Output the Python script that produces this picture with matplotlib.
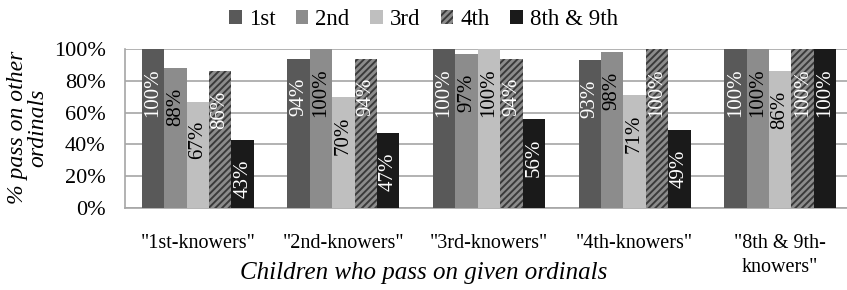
import numpy as np
import matplotlib
matplotlib.use("Agg")
import matplotlib.pyplot as plt
from matplotlib.patches import Patch

plt.rcParams["font.family"] = ["Liberation Serif", "DejaVu Serif"]
plt.rcParams["hatch.linewidth"] = 2.0

# data
groups = ['"1st-knowers"', '"2nd-knowers"', '"3rd-knowers"', '"4th-knowers"',
          '"8th & 9th-\nknowers"']
series = ["1st", "2nd", "3rd", "4th", "8th & 9th"]
first = [100, 94, 100, 93, 100]
second = [88, 100, 97, 98, 100]
third = [67, 70, 100, 71, 86]
fourth = [86, 94, 94, 100, 100]
eighth_ninth = [43, 47, 56, 49, 100]

values = [first, second, third, fourth, eighth_ninth]
colors = ["#595959", "#8c8c8c", "#bfbfbf", "#3a3a3a", "#1a1a1a"]
hatches = [None, None, None, "/////", None]
label_colors = ["white", "black", "black", "white", "white"]

fig = plt.figure(figsize=(8.47, 2.9), dpi=100)
ax = fig.add_axes([0.1476, 0.2828, 0.8595, 0.548])

x = np.arange(len(groups))
w = 0.154
for i, (vals, name) in enumerate(zip(values, series)):
    pos = x + (i - 2) * w
    bars = ax.bar(pos, vals, w, color=colors[i], hatch=hatches[i],
                  edgecolor="#8c8c8c" if hatches[i] else colors[i],
                  linewidth=0, label=name, zorder=3)
    for b, v in zip(bars, vals):
        ax.annotate(f"{v}%", (b.get_x() + b.get_width() / 2, v),
                    xytext=(0, -14), textcoords="offset points",
                    rotation=90, ha="center", va="top",
                    fontsize=15, color=label_colors[i], zorder=4)

ax.set_xlim(-0.5, 4.5)
ax.set_ylim(0, 100)
ax.set_yticks(range(0, 101, 20))
ax.set_yticklabels([f"{t}%" for t in range(0, 101, 20)], fontsize=16)
ax.set_xticks(x)
ax.set_xticklabels(groups, fontsize=14.5, va="top", linespacing=1.3)
ax.tick_params(length=0)
ax.tick_params(axis="x", pad=19)
ax.tick_params(axis="y", pad=14)
ax.yaxis.grid(True, color="#a6a6a6", linewidth=1.2, zorder=0)
for s in ["top", "right"]:
    ax.spines[s].set_visible(False)
ax.spines["left"].set_color("#a6a6a6")
ax.spines["bottom"].set_color("#a6a6a6")
ax.spines["left"].set_linewidth(1.2)
ax.spines["bottom"].set_linewidth(1.2)

fig.text(0.5, 0.058, "Children who pass on given ordinals", ha="center",
         va="center", fontsize=18, style="italic")
fig.text(0.033, 0.56, "% pass on other\nordinals", ha="center", va="center",
         rotation=90, fontsize=17, style="italic", linespacing=0.95)

handles = [Patch(facecolor=colors[i], hatch=hatches[i],
                 edgecolor="#8c8c8c" if hatches[i] else colors[i], linewidth=0)
           for i in range(len(series))]
fig.legend(handles, series, loc="upper center", bbox_to_anchor=(0.5, 1.04),
           ncol=5, frameon=False, fontsize=16.5, handlelength=0.55,
           handleheight=0.55, handletextpad=0.3, columnspacing=0.9)

fig.savefig("out.png", dpi=100)
